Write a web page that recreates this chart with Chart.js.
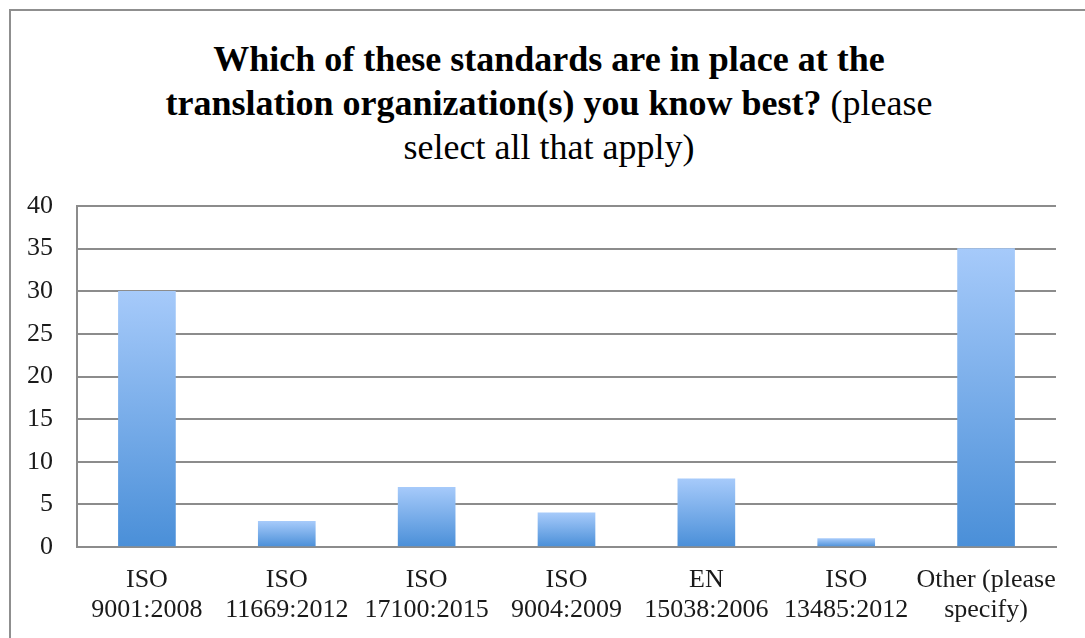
<!DOCTYPE html>
<html>
<head>
<meta charset="utf-8">
<script src="https://cdn.jsdelivr.net/npm/chart.js@4.4.1/dist/chart.umd.min.js"></script>
<style>
  html, body { margin: 0; padding: 0; background: #fff; overflow: hidden; }
  #frame {
    position: absolute; left: 9px; top: 9px; width: 1100px; height: 700px;
    border: 2px solid #8f8f8f; box-sizing: border-box;
  }
  #title {
    position: absolute; left: 9px; top: 37px; width: 1080px;
    text-align: center; font-family: 'Liberation Serif', serif;
    font-size: 36px; line-height: 44px; color: #000;
  }
  #title b { font-weight: bold; }
  canvas { position: absolute; left: 0; top: 0; }
</style>
</head>
<body>
<div id="frame"></div>
<div id="title"><b>Which of these standards are in place at the<br>translation organization(s) you know best?</b> (please<br>select all that apply)</div>
<canvas id="standardsChart" width="1085" height="638"></canvas>
<script>
const categories = [
  ['ISO', '9001:2008'],
  ['ISO', '11669:2012'],
  ['ISO', '17100:2015'],
  ['ISO', '9004:2009'],
  ['EN', '15038:2006'],
  ['ISO', '13485:2012'],
  ['Other (please', 'specify)']
];
const responses = [30, 3, 7, 4, 8, 1, 35];
const yTickValues = [0, 5, 10, 15, 20, 25, 30, 35, 40];

// vertical gradient per bar: light on top, deeper blue at the base
function barGradient(context) {
  const chart = context.chart;
  const y = chart.scales.y;
  if (!y || !context.parsed) return '#7aaee8';
  const top = y.getPixelForValue(context.parsed.y);
  const bottom = y.getPixelForValue(0);
  if (!isFinite(top) || !isFinite(bottom)) return '#7aaee8';
  const g = chart.ctx.createLinearGradient(0, top, 0, bottom);
  g.addColorStop(0, '#a6cafa');
  g.addColorStop(1, '#4a8fd8');
  return g;
}

const ctx = document.getElementById('standardsChart').getContext('2d');
const standardsChart = new Chart(ctx, {
  type: 'bar',
  data: {
    labels: categories,
    datasets: [{
      data: responses,
      backgroundColor: barGradient,
      borderWidth: 0,
      barThickness: 57
    }]
  },
  options: {
    responsive: false,
    animation: false,
    layout: {
      padding: { top: 206, right: 29, left: 0, bottom: 0 }
    },
    scales: {
      x: {
        grid: { display: false, drawTicks: false },
        border: { display: true, color: '#8c8c8c', width: 2 },
        ticks: {
          padding: 18,
          maxRotation: 0,
          autoSkip: false,
          color: '#1a1a1a',
          font: { family: 'Liberation Serif', size: 26, lineHeight: 1.15 }
        },
        afterFit: function (scale) { scale.height = 91; }
      },
      y: {
        min: 0,
        max: 40,
        afterBuildTicks: function (scale) {
          scale.ticks = yTickValues.map(v => ({ value: v }));
        },
        grid: { color: '#8c8c8c', lineWidth: 2, drawTicks: false },
        border: { display: true, color: '#8c8c8c', width: 2 },
        ticks: {
          padding: 24,
          color: '#1a1a1a',
          font: { family: 'Liberation Serif', size: 26 }
        },
        afterFit: function (scale) { scale.width = 77; }
      }
    },
    plugins: {
      legend: { display: false },
      tooltip: { enabled: false }
    }
  }
});
</script>
</body>
</html>
